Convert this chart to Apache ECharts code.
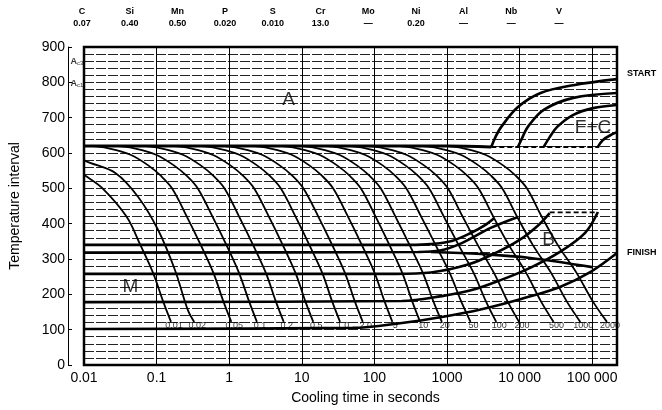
<!DOCTYPE html>
<html><head><meta charset="utf-8">
<script src="https://cdn.jsdelivr.net/npm/echarts@6/dist/echarts.min.js"></script>
<style>html,body{margin:0;padding:0;background:#fff}#c{width:662px;height:410px}</style>
</head><body><div id="c"></div>
<script>
// ---- composition header ----
const elements = ['C','Si','Mn','P','S','Cr','Mo','Ni','Al','Nb','V'];
const composition = ['0.07','0.40','0.50','0.020','0.010','13.0','—','0.20','—','—','—'];

// ---- axis tick labels ----
const xTickLabels = ['0.01','0.1','1','10','100','1000','10 000','100 000'];

// ---- cooling curves: [time s, temperature °C] ----
const cool01 = [[0.001,620],[0.002,612],[0.0035,595],[0.0062,565],[0.0102,537],[0.018,500],[0.0385,420],[0.0597,340],[0.0897,260],[0.123,180],[0.158,122]];
const cool02 = [[0.002,620],[0.004,612],[0.0075,595],[0.0106,577],[0.0273,543],[0.0561,475],[0.105,382],[0.179,269],[0.269,156],[0.33,122]];
const cool03 = [[0.01,620],[0.0113,620],[0.0233,612],[0.0437,595],[0.0768,565],[0.115,535],[0.163,500],[0.261,420],[0.405,340],[0.608,260],[0.832,180],[1.07,122]];
const cool04 = [[0.01,620],[0.0256,620],[0.0527,612],[0.0986,595],[0.173,565],[0.261,535],[0.368,500],[0.589,420],[0.914,340],[1.37,260],[1.88,180],[2.41,122]];
const cool05 = [[0.01,620],[0.0597,620],[0.123,612],[0.230,595],[0.405,565],[0.608,535],[0.859,500],[1.37,420],[2.13,340],[3.21,260],[4.39,180],[5.64,122]];
const cool06 = [[0.01,620],[0.153,620],[0.315,612],[0.589,595],[1.04,565],[1.56,535],[2.20,500],[3.52,420],[5.46,340],[8.21,260],[11.2,180],[14.4,122]];
const cool07 = [[0.01,620],[0.357,620],[0.735,612],[1.38,595],[2.42,565],[3.63,535],[5.13,500],[8.21,420],[12.7,340],[19.2,260],[26.2,180],[33.7,122]];
const cool08 = [[0.01,620],[0.733,620],[1.51,612],[2.83,595],[4.96,565],[7.46,535],[10.5,500],[16.9,420],[26.2,340],[39.4,260],[53.8,180],[69.2,122]];
const cool09 = [[0.01,620],[1.88,620],[3.87,612],[7.25,595],[12.7,565],[19.1,535],[27.0,500],[43.3,420],[67.1,340],[101,260],[138,180],[177,122]];
const cool10 = [[0.01,620],[4.52,620],[9.31,612],[17.4,595],[30.6,565],[46.0,535],[65.0,500],[104,420],[161,340],[243,260],[332,180],[427,122]];
const cool11 = [[0.01,620],[8.47,620],[17.5,612],[32.7,595],[57.4,565],[86.3,535],[122,500],[195,420],[305,340],[467,260],[650,180],[851,122]];
const cool12 = [[0.01,620],[19.1,620],[39.4,612],[73.8,595],[130,565],[195,535],[275,500],[441,420],[695,340],[1094,260],[1570,180],[2113,122]];
const cool13 = [[0.01,620],[39.3,620],[81.1,612],[152,595],[267,565],[401,535],[566,500],[906,420],[1442,340],[2338,260],[3442,180],[4773,122]];
const cool14 = [[0.01,620],[71.5,620],[147,612],[276,595],[484,565],[728,535],[1028,500],[1645,420],[2648,340],[4456,260],[6839,180],[9840,122]];
const cool15 = [[0.01,620],[189,620],[389,612],[728,595],[1279,565],[1923,535],[2716,500],[4346,420],[7094,340],[12385,260],[19720,180],[29440,122]];
const cool16 = [[0.01,620],[401,620],[826,612],[1546,595],[2717,565],[4084,535],[5768,500],[9229,420],[15200,340],[27290,260],[44670,180],[68700,122]];
const cool17 = [[0.01,620],[877,620],[1807,612],[3382,595],[5944,565],[8935,535],[12620,500],[20190,420],[33510,340],[61250,260],[102100,180],[160000,122]];
const coolingCurves = [cool01,cool02,cool03,cool04,cool05,cool06,cool07,cool08,cool09,cool10,cool11,cool12,cool13,cool14,cool15,cool16,cool17];
const rateLabels = ['0.01','0.02','0.05','0.1','0.2','0.5','1.0','2.0','5','10','20','50','100','200','500','1000','2000'];
const rateLabelTemp = 112;

// ---- transformation lines ----
const aLine      = [[0.01,620],[1000,620],[4080,617]];
const aDashed    = [[4080,617],[125000,617]];
const msLine     = [[0.01,340],[300,340],[600,342],[1200,352],[2200,375],[3300,395],[4500,416]];
const bLine1     = [[0.01,318],[400,320],[800,324],[1600,345],[4000,388],[9500,419]];
const msDrop     = [[600,320],[3000,314],[14000,303],[100000,277]];
const bLine2     = [[0.01,258],[200,258],[600,262],[2000,285],[5000,320],[10000,354],[18000,395],[26000,430]];
const bLine3     = [[0.01,178],[240,181],[850,195],[2200,212],[5600,241],[14000,275],[36000,320],[80000,374],[120000,433]];
const finishLine = [[0.01,102],[50,105],[240,119],[850,136],[3000,158],[10500,187],[36000,221],[94000,263],[220000,317]];
const bsDashed   = [[26000,432],[118000,432]];
const fc1 = [[4080,617],[4650,645],[5600,674],[9500,730],[19500,770],[55000,792],[220000,809]];
const fc2 = [[9500,617],[11000,645],[13000,674],[21500,722],[55000,756],[220000,770]];
const fc3 = [[21500,617],[26000,645],[33000,674],[55000,708],[103000,727],[220000,736]];
const fc4 = [[120000,617],[141000,637],[193000,654],[220000,659]];

// ---- region & point labels ----
const regionNames = ['A','B','M','F+C'];
const regionPos = [[6.6,750],[25200,354],[0.0437,221],[103000,671]];
const acNames = ['{a|A}{s|c3}','{a|A}{s|c1}'];
const acPos = [[0.008,858],[0.008,798]];

const FONT = 'Liberation Sans';
const chart = echarts.init(document.getElementById('c'), null, {renderer:'canvas'});

function thick(data, extra) {
  return Object.assign({type:'line', data, smooth:0.35, symbol:'none', silent:true, z:4,
    lineStyle:{color:'#000', width:2.6}}, extra || {});
}

const series = [];
coolingCurves.forEach(d => series.push({type:'line', data:d, smooth:0.35, symbol:'none', silent:true, z:3,
  lineStyle:{color:'#000', width:1.8}}));
series.push(thick(aLine, {lineStyle:{color:'#000', width:3}}));
series.push(thick(aDashed, {smooth:false, lineStyle:{color:'#000', width:1.8, type:[5,3]}}));
series.push(thick(msLine));
series.push(thick(bLine1));
series.push(thick(msDrop));
series.push(thick(bLine2));
series.push(thick(bLine3));
series.push(thick(finishLine, {endLabel:{show:true, formatter:'FINISH', fontFamily:FONT, fontSize:9, fontWeight:'bold', color:'#000', distance:10}}));
series.push(thick(bsDashed, {smooth:false, lineStyle:{color:'#000', width:1.8, type:[5,3]}}));
series.push(thick(fc1, {endLabel:{show:true, formatter:'START', fontFamily:FONT, fontSize:9, fontWeight:'bold', color:'#000', distance:10, offset:[0,-6]}}));
series.push(thick(fc2));
series.push(thick(fc3));
series.push(thick(fc4));

const plainLabel = {textBorderWidth:0, textShadowBlur:0, color:'#000'};
series.push({type:'scatter', silent:true, symbolSize:1, itemStyle:{color:'rgba(0,0,0,0)'}, z:6,
  data: coolingCurves.map((d,i)=>({value:[d[d.length-1][0], rateLabelTemp], label:{formatter:rateLabels[i]}})),
  label:Object.assign({show:true, position:'inside', offset:[3,0], fontFamily:FONT, fontSize:9}, plainLabel)});
series.push({type:'scatter', silent:true, symbolSize:1, itemStyle:{color:'rgba(0,0,0,0)'}, z:6,
  data: regionPos.map((p,i)=>({value:p, label:{formatter:regionNames[i]}})),
  label:Object.assign({show:true, position:'inside', fontFamily:FONT, fontSize:19}, plainLabel)});
series.push({type:'scatter', silent:true, clip:false, symbolSize:1, itemStyle:{color:'rgba(0,0,0,0)'}, z:6,
  data: acPos.map((p,i)=>({value:p, label:{formatter:acNames[i]}})),
  label:Object.assign({show:true, position:'inside',
    rich:{a:{fontFamily:FONT, fontSize:9, fontWeight:'bold', color:'#000'}, s:{fontFamily:FONT, fontSize:6, color:'#000', verticalAlign:'bottom', padding:[4,0,0,0]}}}, plainLabel)});

const graphic = elements.map((e,i)=>({
  type:'text', x: 82 + i*47.7, y: 6, silent:true,
  style:{text: e + '\n' + composition[i], align:'center', verticalAlign:'top',
    fontFamily:FONT, fontSize:9, fontWeight:'bold', lineHeight:12, fill:'#000'}
}));

chart.setOption({
  animation:false,
  backgroundColor:'#fff',
  graphic,
  grid:{left:78, right:45, top:47, bottom:45, show:true, borderColor:'#000', borderWidth:2.5, backgroundColor:'transparent', z:5},
  xAxis:{type:'log', logBase:10, min:0.01, max:220000, interval:1,
    axisLine:{show:false}, axisTick:{show:false},
    splitLine:{show:true, lineStyle:{color:'#000', width:1}},
    axisLabel:{fontFamily:FONT, fontSize:14, color:'#000', margin:6,
      formatter:(v)=>{const e=Math.log10(v); const r=Math.round(e); return Math.abs(e-r)<1e-6 ? (xTickLabels[r+2]||'') : '';}},
    name:'Cooling time in seconds', nameLocation:'middle', nameGap:26,
    nameTextStyle:{fontFamily:FONT, fontSize:14, color:'#000', padding:[0,0,0,30]}},
  yAxis:{type:'value', min:0, max:900, interval:100, offset:16,
    axisLine:{show:true, lineStyle:{color:'#000', width:1}},
    axisTick:{show:true, inside:true, length:4, lineStyle:{color:'#000'}},
    axisLabel:{fontFamily:FONT, fontSize:14, color:'#000', margin:3},
    splitLine:{show:true, lineStyle:{color:'#222', width:1, type:[10,2]}},
    minorTick:{show:false, splitNumber:5},
    minorSplitLine:{show:true, lineStyle:{color:'#222', width:1, type:[10,2]}},
    name:'Temperature interval', nameLocation:'middle', nameGap:46, nameRotate:90,
    nameTextStyle:{fontFamily:FONT, fontSize:14, color:'#000'}},
  series
});
</script></body></html>
